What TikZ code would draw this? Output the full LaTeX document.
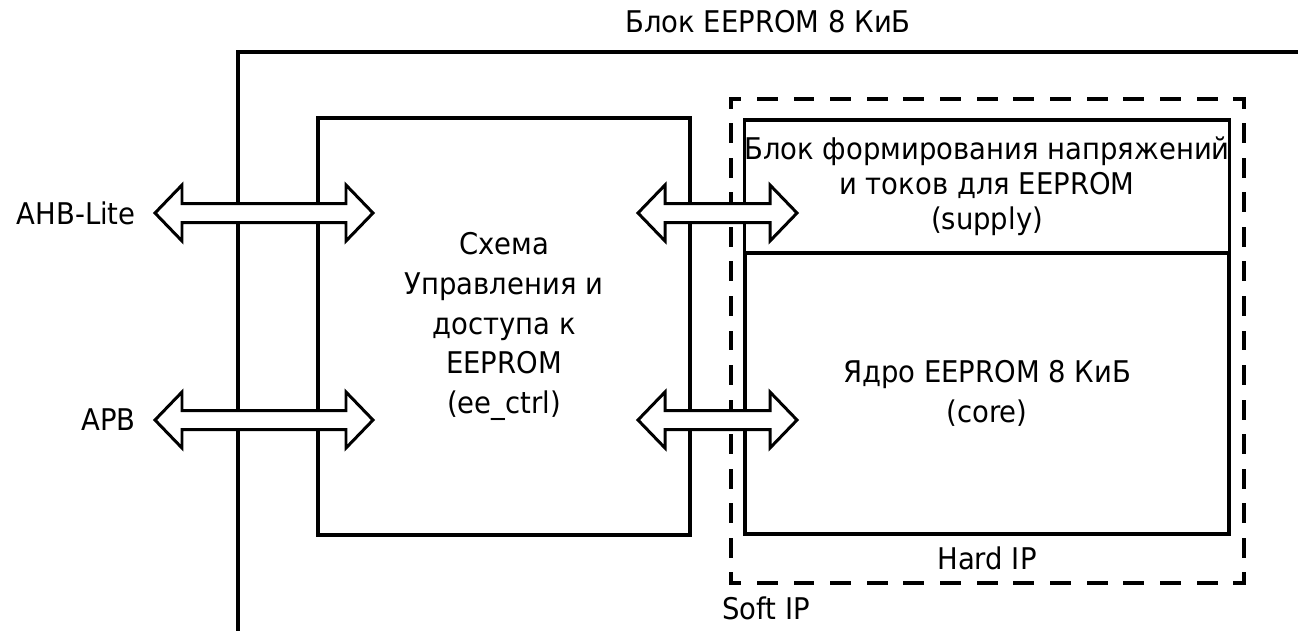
\documentclass[tikz,border=0pt]{standalone}
\usepackage{fontspec}
\setmainfont[FakeStretch=0.92]{DejaVu Sans}
\usetikzlibrary{calc}
\tikzset{
	blk/.style={draw, line width=2pt, inner sep=0pt, align=center},
	hdash/.style={line width=2.2pt, line cap=rect, dash pattern=on 0.34cm off 0.393cm, dash phase=0.17cm},
	vdash/.style={line width=2.2pt, line cap=rect, dash pattern=on 0.32cm off 0.371cm, dash phase=0.16cm},
	bus/.style={draw, line width=1.7pt, fill=white, line join=miter},
	lbl/.style={inner sep=0pt, align=center},
	edge/.style={line width=2.2pt},
}
% hollow double-headed bus arrow between two named points
\newcommand{\busarrow}[2]{%
	\path[bus] (#1) -- ($(#1)+(27,-28)$) -- ($(#1)+(27,-9.5)$) -- ($(#2)+(-27,-9.5)$)
	-- ($(#2)+(-27,-28)$) -- (#2) -- ($(#2)+(-27,28)$) -- ($(#2)+(-27,9.5)$)
	-- ($(#1)+(27,9.5)$) -- ($(#1)+(27,28)$) -- cycle;}

\begin{document}
\begin{tikzpicture}[x=0.02cm, y=-0.02cm, font=\fontsize{17}{22.7}\selectfont]
	\useasboundingbox (0,0) rectangle (1298,630);
	% outer block
	\draw[edge] (238,640) |- (1310,52);
	\node[lbl] at (768,22) (title) {Блок EEPROM 8 КиБ};
	% blocks
	\node[blk, minimum width=7.44cm, minimum height=8.34cm] at (504,326.5) (ctrl) {Схема\\Управления и\\доступа к\\EEPROM\\(ee\_ctrl)};
	\node[minimum width=10.26cm, minimum height=9.68cm, inner sep=0pt] at (987.5,341) (hardip) {};
	\draw[hdash] (hardip.north west) -- (hardip.north east);
	\draw[hdash] (hardip.south west) -- (hardip.south east);
	\draw[vdash] (hardip.north west) -- (hardip.south west);
	\draw[vdash] (hardip.north east) -- (hardip.south east);
	\node[blk, minimum width=9.68cm, minimum height=2.66cm, font=\fontsize{17}{19.9}\selectfont] at (987,186.5) (supply) {Блок формирования напряжений\\и токов для EEPROM\\(supply)};
	\node[blk, minimum width=9.68cm, minimum height=5.62cm] at (987,393.5) (core) {Ядро EEPROM 8 КиБ\\(core)};
	% bus labels
	\node[lbl, anchor=east] at (136,213) (ahb) {AHB-Lite};
	\node[lbl, anchor=east] at (136,420) (apb) {APB};
	\node[lbl] at (987,558) (hardlbl) {Hard IP};
	\node[lbl, anchor=west] at (722,608) (softlbl) {Soft IP};
	% bus ends
	\coordinate (ahbA) at (155,213);
	\coordinate (ahbB) at (373,213);
	\coordinate (apbA) at (155,420);
	\coordinate (apbB) at (373,420);
	\coordinate (supA) at (638,213);
	\coordinate (supB) at (797,213);
	\coordinate (coreA) at (638,420);
	\coordinate (coreB) at (797,420);
	\busarrow{ahbA}{ahbB}
	\busarrow{apbA}{apbB}
	\busarrow{supA}{supB}
	\busarrow{coreA}{coreB}
\end{tikzpicture}
\end{document}
